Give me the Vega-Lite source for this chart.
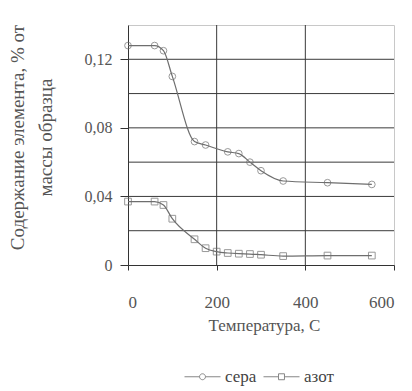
{
  "$schema": "https://vega.github.io/schema/vega-lite/v6.json",
  "width": 266,
  "height": 240,
  "autosize": {"type": "none"},
  "padding": {"left": 128, "top": 25, "right": 18, "bottom": 126},
  "background": "white",
  "config": {
    "font": "Liberation Serif",
    "view": {"stroke": "#c8c8c8", "strokeWidth": 1},
    "axisY": {"labelOverlap": false},
    "axisX": {"labelOverlap": false}
  },
  "datasets": {
    "main": [
      {"t": 0, "v": 0.128, "series": "сера"},
      {"t": 60, "v": 0.128, "series": "сера"},
      {"t": 80, "v": 0.125, "series": "сера"},
      {"t": 100, "v": 0.11, "series": "сера"},
      {"t": 150, "v": 0.072, "series": "сера"},
      {"t": 175, "v": 0.07, "series": "сера"},
      {"t": 225, "v": 0.066, "series": "сера"},
      {"t": 250, "v": 0.065, "series": "сера"},
      {"t": 275, "v": 0.06, "series": "сера"},
      {"t": 300, "v": 0.055, "series": "сера"},
      {"t": 350, "v": 0.049, "series": "сера"},
      {"t": 450, "v": 0.048, "series": "сера"},
      {"t": 550, "v": 0.047, "series": "сера"},
      {"t": 0, "v": 0.037, "series": "азот"},
      {"t": 60, "v": 0.037, "series": "азот"},
      {"t": 80, "v": 0.035, "series": "азот"},
      {"t": 100, "v": 0.027, "series": "азот"},
      {"t": 150, "v": 0.015, "series": "азот"},
      {"t": 175, "v": 0.0098, "series": "азот"},
      {"t": 200, "v": 0.0078, "series": "азот"},
      {"t": 225, "v": 0.007, "series": "азот"},
      {"t": 250, "v": 0.0066, "series": "азот"},
      {"t": 275, "v": 0.0064, "series": "азот"},
      {"t": 300, "v": 0.006, "series": "азот"},
      {"t": 350, "v": 0.0052, "series": "азот"},
      {"t": 450, "v": 0.0055, "series": "азот"},
      {"t": 550, "v": 0.0055, "series": "азот"}
    ],
    "ygrid": [{"v": 0.02}, {"v": 0.04}, {"v": 0.06}, {"v": 0.08}, {"v": 0.1}, {"v": 0.12}],
    "xgrid": [{"t": 200}, {"t": 400}]
  },
  "layer": [
    {
      "data": {"name": "ygrid"},
      "mark": {"type": "rule", "color": "#3a3a3a", "strokeWidth": 1},
      "encoding": {
        "y": {
          "field": "v",
          "type": "quantitative",
          "scale": {"domain": [0, 0.14], "nice": false},
          "axis": {
            "grid": false,
            "values": [0, 0.02, 0.04, 0.06, 0.08, 0.1, 0.12, 0.14],
            "labelExpr": "replace(format(datum.value, '.2~f'), '.', ',')",
            "labelOverlap": false,
            "title": ["Содержание элемента, % от", "массы образца"],
            "titleFont": "Liberation Serif",
            "titleFontSize": 19,
            "titleFontWeight": "normal",
            "titleColor": "#555",
            "titleLineHeight": 28,
            "titleX": -101,
            "titleY": 112,
            "titleBaseline": "bottom",
            "labelFont": "Liberation Serif",
            "labelFontSize": 16,
            "labelColor": "#555",
            "labelPadding": 8,
            "tickSize": 8,
            "tickColor": "#333",
            "domainColor": "#333"
          }
        }
      }
    },
    {
      "data": {"name": "xgrid"},
      "mark": {"type": "rule", "color": "#3a3a3a", "strokeWidth": 1},
      "encoding": {
        "x": {
          "field": "t",
          "type": "quantitative",
          "scale": {"domain": [0, 600], "nice": false, "zero": false},
          "axis": {
            "grid": false,
            "values": [0, 200, 400, 600],
            "title": "Температура, С",
            "titleFont": "Liberation Serif",
            "titleFontSize": 17,
            "titleFontWeight": "normal",
            "titleColor": "#555",
            "titleX": 136,
            "titleY": 52,
            "titleBaseline": "top",
            "labelFont": "Liberation Serif",
            "labelFontSize": 17,
            "labelColor": "#555",
            "labelPadding": 24,
            "labelOverlap": false,
            "tickSize": 5,
            "tickColor": "#333",
            "domainColor": "#333"
          }
        }
      }
    },
    {
      "data": {"name": "main"},
      "mark": {"type": "line", "interpolate": "monotone", "color": "#6e6e6e", "strokeWidth": 1.2},
      "encoding": {
        "x": {
          "field": "t",
          "type": "quantitative",
          "scale": {"domain": [0, 600], "nice": false, "zero": false},
          "axis": {
            "grid": false,
            "values": [0, 200, 400, 600],
            "title": "Температура, С",
            "titleFont": "Liberation Serif",
            "titleFontSize": 17,
            "titleFontWeight": "normal",
            "titleColor": "#555",
            "titleX": 136,
            "titleY": 52,
            "titleBaseline": "top",
            "labelFont": "Liberation Serif",
            "labelFontSize": 17,
            "labelColor": "#555",
            "labelPadding": 24,
            "labelOverlap": false,
            "tickSize": 5,
            "tickColor": "#333",
            "domainColor": "#333"
          }
        },
        "y": {
          "field": "v",
          "type": "quantitative",
          "scale": {"domain": [0, 0.14], "nice": false},
          "axis": {
            "grid": false,
            "values": [0, 0.02, 0.04, 0.06, 0.08, 0.1, 0.12, 0.14],
            "labelExpr": "replace(format(datum.value, '.2~f'), '.', ',')",
            "labelOverlap": false,
            "title": ["Содержание элемента, % от", "массы образца"],
            "titleFont": "Liberation Serif",
            "titleFontSize": 19,
            "titleFontWeight": "normal",
            "titleColor": "#555",
            "titleLineHeight": 28,
            "titleX": -101,
            "titleY": 112,
            "titleBaseline": "bottom",
            "labelFont": "Liberation Serif",
            "labelFontSize": 16,
            "labelColor": "#555",
            "labelPadding": 8,
            "tickSize": 8,
            "tickColor": "#333",
            "domainColor": "#333"
          }
        },
        "detail": {"field": "series"}
      }
    },
    {
      "data": {"name": "main"},
      "mark": {"type": "point", "filled": false, "size": 45, "strokeWidth": 1, "color": "#6e6e6e"},
      "encoding": {
        "x": {"field": "t", "type": "quantitative"},
        "y": {"field": "v", "type": "quantitative"},
        "shape": {
          "field": "series",
          "type": "nominal",
          "scale": {"domain": ["сера", "азот"], "range": ["circle", "square"]},
          "legend": null
        }
      }
    },
    {
      "data": {"name": "main"},
      "transform": [{"filter": "datum.t < 0"}],
      "mark": {"type": "point", "filled": false, "strokeWidth": 1, "color": "#555"},
      "encoding": {
        "x": {"field": "t", "type": "quantitative"},
        "y": {"field": "v", "type": "quantitative"},
        "shape": {
          "field": "series",
          "type": "nominal",
          "scale": {
            "domain": ["сера", "азот"],
            "range": [
              "M-1,0H0.67M1.33,0H3M0.67,0A0.33,0.33 0 1,1 1.33,0A0.33,0.33 0 1,1 0.67,0Z",
              "M-1,0H0.67M1.33,0H3M0.67,-0.33H1.33V0.33H0.67Z"
            ]
          },
          "legend": {
            "title": null,
            "orient": "none",
            "legendX": 56,
            "legendY": 342,
            "direction": "horizontal",
            "symbolSize": 324,
            "symbolStrokeColor": "#555",
            "symbolStrokeWidth": 1,
            "symbolFillColor": "white",
            "labelFont": "Liberation Serif",
            "labelFontSize": 17,
            "labelColor": "#444",
            "labelOffset": 22,
            "columnPadding": 4
          }
        }
      }
    }
  ],
  "resolve": {"scale": {"shape": "independent"}, "legend": {"shape": "independent"}}
}
